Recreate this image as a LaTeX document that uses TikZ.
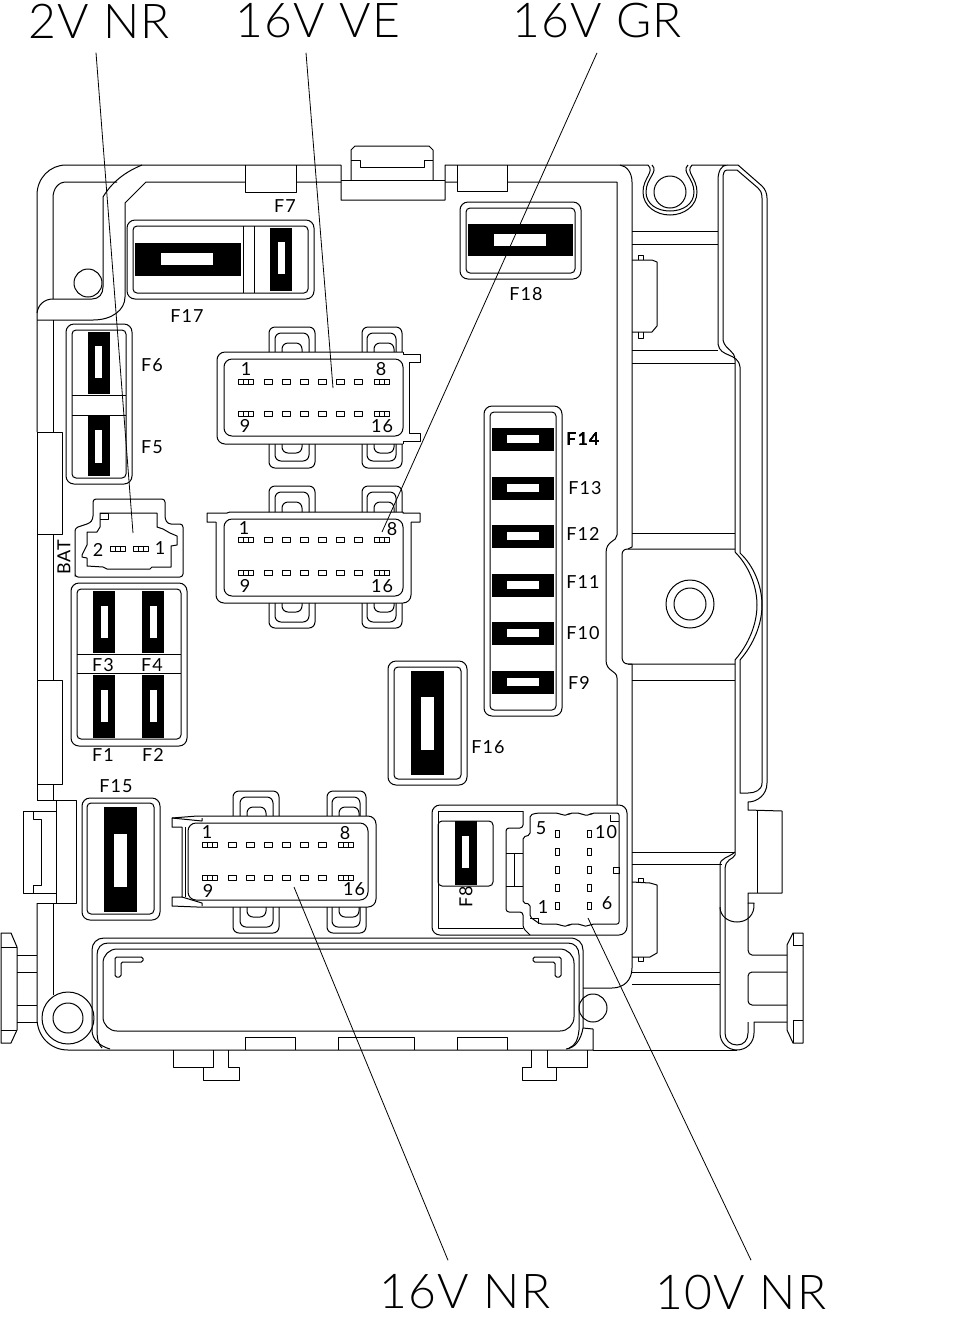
\documentclass[tikz,border=0pt]{standalone}
\usepackage{fontspec}
\newfontfamily\capfont[LetterSpace=6]{Lato}
\newfontfamily\bigfont[LetterSpace=2.5]{Lato Light}
\tikzset{
	tag/.style={inner sep=0pt,font=\capfont\fontsize{9}{10}\selectfont},
	pintag/.style={inner sep=0pt,font=\capfont\fontsize{9}{10}\selectfont},
	bigtag/.style={inner xsep=0pt,inner ysep=7pt,font=\bigfont\fontsize{24}{26}\selectfont},
	leader/.style={line width=.4pt},
	pin/.style={line width=.35pt},
	holder/.style={rounded corners=4pt,fill=white}
}
\newcommand{\blade}[8]{%
	\fill[black] (#1,#2) rectangle (#3,#4);
	\fill[white] (#5,#6) rectangle (#7,#8);
}
\newcommand{\pinwide}[2]{%
	\draw[pin] (#1-7.5,#2-2.2) rectangle (#1+7.5,#2+2.2);
	\draw[pin] (#1-2.5,#2-2.2) -- (#1-2.5,#2+2.2) (#1+2.5,#2-2.2) -- (#1+2.5,#2+2.2);
}
\newcommand{\pinrow}[2]{%
	\pinwide{#1}{#2}
	\pinwide{#1+136}{#2}
	\foreach \k in {0,...,5}
		\draw[pin] (#1+22.5+18*\k-4,#2-2.2) rectangle (#1+22.5+18*\k+4,#2+2.2);
}
\begin{document}
\begin{tikzpicture}[x=.5pt,y=-.5pt,line width=.5pt,line join=round]
	\useasboundingbox (0,0) rectangle (960,1330);
	\fill[white] (0,0) rectangle (960,1330);
	% outer shell, left and top
	\draw (37,432) -- (37,195) .. controls (37,178) and (50,165) .. (66,165) -- (341,165) -- (341,200) -- (445,200) -- (445,165) -- (648,165);
	\draw (692,165) -- (727,165) .. controls (721,165) and (718,172) .. (718,180) -- (718,344) .. controls (720,358) and (738,352) .. (740,367) -- (740,553);
	\draw (740,660) -- (740,793) -- (748,793) .. controls (755,793) and (762,790) .. (762,783) -- (762,198) .. controls (762,192) and (760,190) .. (758,188) -- (737,170) -- (727,170) .. controls (724,170) and (723,174) .. (723,178) -- (723,340) .. controls (725,350) and (735,350) .. (735,360) -- (735,552);
	\draw (735,660) -- (735,855) .. controls (733,860) and (725,858) .. (725,870) -- (725,1033) .. controls (725,1040) and (730,1045) .. (737,1045) .. controls (744,1045) and (748,1040) .. (748,1033) -- (748,1022);
	\draw (727,165) -- (738,165) -- (762,186) .. controls (765,189) and (767,193) .. (767,198) -- (767,783) .. controls (767,795) and (757,802) .. (748,802) -- (748,810) -- (782,811) -- (782,893) -- (748,893) -- (748,903) -- (754,903) .. controls (755,915) and (747,922) .. (737,922) .. controls (728,922) and (720,916) .. (720,907) -- (720,865) .. controls (720,858) and (728,858) .. (735,852);
	\draw (757,811) -- (757,893);
	\draw (720,907) -- (720,1033) .. controls (720,1043) and (728,1050) .. (737,1050) .. controls (746,1050) and (754,1043) .. (754,1033) -- (754,1022) -- (787,1022);
	\draw (748,903) -- (748,950) .. controls (748,953) and (750,955) .. (752,955) -- (787,955);
	\draw (787,972) -- (752,972) .. controls (750,972) and (748,974) .. (748,976) -- (748,1001) .. controls (748,1003) and (750,1005) .. (752,1005) -- (787,1005);
	\draw (787,945) -- (793,933) -- (803,933) -- (803,1043) -- (793,1043) -- (787,1030) -- cycle;
	\draw (793,945) -- (803,945) (793,1020) -- (803,1020) (793,933) -- (793,945) (793,1020) -- (793,1043);
	% top clip and tabs
	\draw (351,180) -- (351,150) -- (355,146) -- (429,146) -- (433,150) -- (433,180);
	\draw (351,160) -- (360,160) -- (360,167) -- (424,167) -- (424,160) -- (433,160);
	\draw (341,180) -- (445,180);
	\draw (245,165) -- (245,192) -- (296,192) -- (296,165);
	\draw (457,165) -- (457,191) -- (507,191) -- (507,165);
	% inner wall
	\draw (53,299) -- (53,198) .. controls (53,189) and (58,182) .. (66,182) -- (117,182);
	\draw (37,313) .. controls (38,305) and (44,299) .. (53,299) -- (92,299) .. controls (99,299) and (103,294) .. (103,287) -- (103,197) .. controls (112,182) and (125,172) .. (142,165);
	\draw (37,320) -- (93,320) .. controls (112,320) and (125,310) .. (125,297) -- (125,203) -- (146,182) -- (245,182);
	\draw (296,182) -- (341,182) (445,182) -- (457,182) (507,182) -- (617,182) -- (617,535) .. controls (617,542) and (606,540) .. (606,553) -- (606,660) .. controls (606,672) and (617,670) .. (617,678) -- (617,805);
	\draw (620,165) .. controls (627,166) and (632,173) .. (632,182) -- (632,547) -- (628,549);
	\draw (628,664) -- (632,664) -- (632,968) .. controls (632,980) and (624,988) .. (612,988) -- (583,988);
	\draw (53,320) -- (53,432);
	\draw (88,283) circle (14);
	\draw (37,432) rectangle (62,534);
	\draw (37,534) -- (37,680) (53,534) -- (53,680);
	\draw (37,680) rectangle (62,784);
	\draw (37,784) -- (37,800) (53,784) -- (53,800);
	% left clip and bolt
	\draw (37,800) -- (76,800) -- (76,903) -- (37,903);
	\draw (56,800) -- (56,903);
	\draw (56,811) -- (23,811) -- (23,893) -- (56,893);
	\draw (23,811) -- (33,811) -- (33,819) -- (41,819) -- (41,885) -- (33,885) -- (33,893);
	\draw (37,903) -- (37,1018) .. controls (37,1036) and (50,1050) .. (68,1050) -- (593,1050) -- (593,1029) -- (583,1028);
	\draw (593,1050) -- (737,1050);
	\draw (53,903) -- (53,995);
	\draw (68,1018) circle (26);
	\draw (68,1018) circle (15);
	\draw (17,947) -- (11,933) -- (1,933) -- (1,1043) -- (11,1043) -- (17,1030) -- cycle;
	\draw (1,947) -- (17,947) (1,1030) -- (17,1030);
	\foreach \y in {955,972,1005,1022} \draw (17,\y) -- (37,\y);
	% bottom frame
	\draw (92,1030) -- (92,950) .. controls (92,943) and (97,938) .. (104,938) -- (570,938) .. controls (578,938) and (583,943) .. (583,950) -- (583,1028) .. controls (581,1040) and (575,1048) .. (566,1049);
	\draw (110,1049) .. controls (100,1046) and (92,1040) .. (92,1030);
	\draw (102,1048) .. controls (99,1045) and (97,1040) .. (97,1030) -- (97,955) .. controls (97,948) and (101,943) .. (108,943) -- (568,943) .. controls (575,943) and (579,948) .. (579,955) -- (579,1030) .. controls (578,1040) and (575,1046) .. (569,1048);
	\draw[rounded corners=7pt] (103,949) rectangle (574,1031);
	\draw[rounded corners=.8pt] (115,977) -- (115,957) -- (143,957) -- (143,962) -- (121,962) -- (121,977) -- cycle;
	\draw[rounded corners=.8pt] (533,957) -- (561,957) -- (561,977) -- (555,977) -- (555,962) -- (533,962) -- cycle;
	\draw (245,1050) -- (245,1037) -- (295,1037) -- (295,1050);
	\draw (338,1050) -- (338,1037) -- (414,1037) -- (414,1050);
	\draw (457,1050) -- (457,1037) -- (507,1037) -- (507,1050);
	\draw (173,1050) -- (173,1067) -- (213,1067) -- (213,1050);
	\draw (228,1050) -- (228,1067) -- (239,1067) -- (239,1080) -- (203,1080) -- (203,1067);
	\draw (587,1050) -- (587,1067) -- (547,1067) -- (547,1050);
	\draw (531,1050) -- (531,1067) -- (522,1067) -- (522,1080) -- (556,1080) -- (556,1067);
	\draw (593,1008) circle (14);
	% right side pockets
	\draw (670,192) circle (16);
	\draw (648,165) .. controls (655,172) and (643,178) .. (643,192) .. controls (643,206) and (656,215) .. (670,215) .. controls (684,215) and (697,206) .. (697,192) .. controls (697,178) and (685,172) .. (692,165);
	\draw (652,165) .. controls (659,172) and (646,178) .. (646,192) .. controls (646,204) and (657,211) .. (670,211) .. controls (683,211) and (694,204) .. (694,192) .. controls (694,178) and (681,172) .. (688,165);
	\foreach \y in {231,244,350} \draw (632,\y) -- (718,\y);
	\draw (632,363) -- (735,363);
	\draw (632,533) -- (735,533);
	\draw (632,680) -- (735,680);
	\draw (632,852) -- (735,852);
	\draw (632,864) -- (722,864);
	\foreach \y in {972,984} \draw (632,\y) -- (720,\y);
	\draw (735,549) -- (628,549) .. controls (624,549) and (622,551) .. (622,555) -- (622,657) .. controls (622,661) and (624,664) .. (628,664) -- (735,664);
	\draw (735,552) .. controls (748,565) and (757,585) .. (757,605) .. controls (757,625) and (748,645) .. (735,660);
	\draw (740,553) .. controls (753,565) and (762,585) .. (762,605) .. controls (762,625) and (753,645) .. (740,660);
	\draw (690,604) circle (24);
	\draw (690,604) circle (16);
	\draw (632,260) -- (652,260) -- (657,262) -- (657,326) -- (652,332) -- (632,332);
	\draw (638,260) -- (638,255) -- (643,255) -- (643,260) (638,332) -- (638,338) -- (643,338) -- (643,332);
	\draw (632,882) -- (650,883) -- (657,885) -- (657,953) -- (650,957) -- (632,957);
	\draw (638,882) -- (638,878) -- (643,878) -- (643,882) (638,957) -- (638,961) -- (643,961) -- (643,957);
	% F17 F7
	\draw[holder] (127,220) rectangle (314,299);
	\draw[rounded corners=2pt] (133,226) rectangle (308,293);
	\draw (243,226) -- (243,293) (254,226) -- (254,293);
	\blade{135}{243}{241}{276}{161}{253}{213}{265}
	\blade{270}{228}{292}{291}{278}{242}{285}{274}
	\node[tag] (tagFseven) at (285,206) {F7};
	\node[tag] (tagFseventeen) at (187,316) {F17};
	% F18
	\draw[holder] (460,202) rectangle (581,279);
	\draw[rounded corners=2pt] (466,208) rectangle (575,273);
	\blade{468}{224}{573}{256}{494}{234}{546}{246}
	\node[tag] (tagFeighteen) at (526,294) {F18};
	% F6 F5
	\draw[holder] (66,324) rectangle (132,484);
	\draw[rounded corners=2pt] (72,330) rectangle (126,478);
	\draw (72,395) -- (126,395) (72,415) -- (126,415);
	\blade{88}{332}{110}{394}{95}{346}{102}{378}
	\blade{88}{416}{110}{476}{95}{430}{102}{463}
	\node[tag] (tagFsix) at (152,365) {F6};
	\node[tag] (tagFfive) at (152,447) {F5};
	% F1 to F4
	\draw[holder] (71,583) rectangle (187,746);
	\draw[rounded corners=2pt] (77,589) rectangle (181,739);
	\draw (77,654) -- (181,654) (77,673) -- (181,673);
	\foreach \x in {93,142} {
		\blade{\x}{591}{\x+22}{653}{\x+7.5}{606}{\x+14.5}{638}
		\blade{\x}{675}{\x+22}{738}{\x+7.5}{690}{\x+14.5}{722}
	}
	\node[tag] (tagFthree) at (103,665) {F3};
	\node[tag] (tagFfour) at (152,665) {F4};
	\node[tag] (tagFone) at (103,755) {F1};
	\node[tag] (tagFtwo) at (153,755) {F2};
	% F15 F16
	\draw[holder] (82,798) rectangle (160,920);
	\draw[rounded corners=2pt] (87,803) rectangle (154,914);
	\blade{104}{807}{137}{912}{114}{834}{127}{887}
	\node[tag] (tagFfifteen) at (116,786) {F15};
	\draw[holder] (388,661) rectangle (467,785);
	\draw[rounded corners=2pt] (394,667) rectangle (461,779);
	\blade{411}{671}{444}{775}{421}{697}{434}{750}
	\node[tag] (tagFsixteen) at (488,747) {F16};
	% F9 to F14
	\draw[holder] (484,406) rectangle (562,716);
	\draw[rounded corners=2pt] (490,412) rectangle (556,710);
	\foreach \y in {428,476.5,525,573.5,622,671}
		\blade{492}{\y}{554}{\y+23}{507}{\y+7}{539}{\y+15}
	\node[tag] (tagFfourteen) at (583,438.6) {F14};
	\node[tag] (tagFthirteen) at (585,488) {F13};
	\node[tag] (tagFtwelve) at (583,534) {F12};
	\node[tag] (tagFeleven) at (583,582) {F11};
	\node[tag] (tagFten) at (583,633) {F10};
	\node[tag] (tagFnine) at (579,683) {F9};
	% two way connector
	\draw[rounded corners=1.5pt] (75,573) -- (75,528) -- (90,523) -- (93,519) -- (93,499) -- (165,499) -- (165,519) -- (168,524) -- (183,524) -- (183,577) -- (75,577) -- cycle;
	\draw (87,532) -- (97,532) -- (100,527) -- (100,513) -- (157,513) -- (157,527) -- (163,529) -- (170,533) -- (177,536) -- (177,545) -- (171,546) -- (171,567) -- (152,567) -- (150,569) -- (107,569) -- (103,567) -- (87,566) -- (87,558) -- (82,557) -- (82,555) -- (87,545) -- cycle;
	\draw (100,513) -- (108,513) -- (108,519) -- (100,519);
	\pinwide{117.5}{549}
	\pinwide{140.5}{549}
	\node[pintag] (pinbtwo) at (98,550) {2};
	\node[pintag] (pinbone) at (160,548) {1};
	\node[tag,rotate=90] (tagbat) at (64,557) {BAT};
	% sixteen way connector, top
	\foreach \xa/\xb/\ya in {269/315/327,275/309/333,282/302/343,362/402/327,367/396/333,374/394/343}
		\draw[rounded corners=3pt] (\xa,352) -- (\xa,\ya) -- (\xb,\ya) -- (\xb,352);
	\foreach \xa/\xb/\ya in {269/315/468,275/309/461,282/302/453,362/402/468,367/396/461,374/394/453}
		\draw[rounded corners=3pt] (\xa,444) -- (\xa,\ya) -- (\xb,\ya) -- (\xb,444);
	\draw[rounded corners=4pt,fill=white] (403,444) -- (217,444) -- (217,352) -- (403,352);
	\draw (403,352) -- (403,354) -- (420,354) -- (420,362) -- (409,362) -- (409,433) -- (420,433) -- (420,441) -- (403,441) -- (403,444);
	\draw[rounded corners=4pt] (224,359) rectangle (403,436);
	\pinrow{245.5}{382}
	\pinrow{245.5}{414}
	\node[pintag] (pinvone) at (246,369) {1};
	\node[pintag] (pinveight) at (381,369) {8};
	\node[pintag] (pinvnine) at (245,426) {9};
	\node[pintag] (pinvsixteen) at (382,426) {16};
	% sixteen way connector, middle
	\foreach \xa/\xb/\ya in {269/315/486,275/309/492,282/302/502,362/402/486,367/396/492,374/394/502}
		\draw[rounded corners=3pt] (\xa,512) -- (\xa,\ya) -- (\xb,\ya) -- (\xb,512);
	\foreach \xa/\xb/\ya in {269/315/628,275/309/622,282/302/612,362/402/628,367/396/622,374/394/612}
		\draw[rounded corners=3pt] (\xa,603) -- (\xa,\ya) -- (\xb,\ya) -- (\xb,603);
	\draw[rounded corners=4pt,fill=white] (216,522) -- (216,603) -- (411,603) -- (411,522);
	\draw (216,522) -- (207,522) -- (207,513) -- (227,513) -- (230,512) -- (403,512) -- (403,513) -- (420,513) -- (420,522) -- (411,522);
	\draw[rounded corners=4pt] (224,519) rectangle (403,596);
	\pinrow{245.5}{540}
	\pinrow{245.5}{573}
	\node[pintag] (pingone) at (244,528) {1};
	\node[pintag] (pingeight) at (392,529) {8};
	\node[pintag] (pingnine) at (245,586) {9};
	\node[pintag] (pingsixteen) at (382,586) {16};
	% sixteen way connector, bottom
	\foreach \xa/\xb/\ya in {233/279/791,240/273/797,247/266/807,327/366/791,332/360/797,339/359/807}
		\draw[rounded corners=3pt] (\xa,816) -- (\xa,\ya) -- (\xb,\ya) -- (\xb,816);
	\foreach \xa/\xb/\ya in {233/279/933,240/273/927,247/266/917,327/366/933,332/360/927,339/359/917}
		\draw[rounded corners=3pt] (\xa,907) -- (\xa,\ya) -- (\xb,\ya) -- (\xb,907);
	\draw[rounded corners=4pt,fill=white] (197,816) -- (376,816) -- (376,907) -- (197,907);
	\draw (197,816) -- (172,818) -- (172,827) -- (182,827) -- (182,897) -- (172,897) -- (172,906) -- (197,907);
	\draw (202,818) -- (202,821) -- (172,818) (202,906) -- (202,903) -- (182,897);
	\draw (185,827) -- (185,897);
	\draw[rounded corners=4pt] (188,823) rectangle (368,900);
	\pinrow{210}{845}
	\pinrow{210}{878}
	\node[pintag] (pinnone) at (207,832) {1};
	\node[pintag] (pinneight) at (345,833) {8};
	\node[pintag] (pinnnine) at (208,891) {9};
	\node[pintag] (pinnsixteen) at (354,889) {16};
	% F8 and ten way connector
	\draw[holder] (432,805) rectangle (627,935);
	\draw (523,811) -- (438,811) -- (438,928) -- (523,928);
	\draw[rounded corners=2pt] (493,886) -- (438,886) -- (438,821) -- (493,821) -- cycle;
	\blade{455}{821}{477}{885}{462}{836}{469}{868}
	\node[tag,rotate=90] (tagFeight) at (466,897) {F8};
	\draw[rounded corners=1.5pt] (523,811) -- (523,828) -- (506,828) -- (506,912) -- (523,912) -- (523,928) -- (530,935);
	\draw (506,853) -- (523,853) (506,886) -- (523,886) (514,853) -- (514,886);
	\draw[rounded corners=1pt] (523,837) -- (530,835) -- (530,815) -- (537,813) -- (558,813) -- (562,815) -- (568,815) -- (570,813) -- (580,813) -- (583,815) -- (590,815) -- (592,813) -- (619,813) -- (619,924) -- (592,924) -- (588,926) -- (583,926) -- (580,924) -- (570,924) -- (568,926) -- (562,926) -- (558,924) -- (540,924) -- (530,917) -- (530,904) -- (523,903) -- cycle;
	\draw (610,815) -- (610,821) -- (619,821);
	\draw (530,918) -- (538,918) -- (538,924);
	\draw (613,867) -- (619,867) -- (619,873) -- (613,873) -- cycle;
	\foreach \y in {834,852,870,888,906} {
		\draw[pin] (555,\y-3.5) rectangle (559,\y+3.5);
		\draw[pin] (587,\y-3.5) rectangle (591,\y+3.5);
	}
	\node[pintag] (pintfive) at (541,828) {5};
	\node[pintag] (pintten) at (606,832) {10};
	\node[pintag] (pintone) at (543,907) {1};
	\node[pintag] (pintsix) at (607,903) {6};
	% leaders
	\node[bigtag,anchor=center] (cabTwoNr) at (99,21) {2V NR};
	\node[bigtag,anchor=center] (cabVe) at (318,21) {16V VE};
	\node[bigtag,anchor=center] (cabGr) at (597,21) {16V GR};
	\node[bigtag,anchor=center] (cabNr) at (465,1292) {16V NR};
	\node[bigtag,anchor=center] (cabTenNr) at (741,1292) {10V NR};
	\coordinate (endTwoNr) at (133,533);
	\coordinate (endVe) at (333,388);
	\coordinate (endGr) at (382,532);
	\coordinate (endNr) at (294,887);
	\coordinate (endTenNr) at (588,918);
	\draw[leader] ([xshift=-1.5pt]cabTwoNr.south) -- (endTwoNr);
	\draw[leader] ([xshift=-6pt]cabVe.south) -- (endVe);
	\draw[leader] (cabGr.south) -- (endGr);
	\draw[leader] ([xshift=-8.5pt]cabNr.north) -- (endNr);
	\draw[leader] ([xshift=5pt]cabTenNr.north) -- (endTenNr);
\end{tikzpicture}
\end{document}
